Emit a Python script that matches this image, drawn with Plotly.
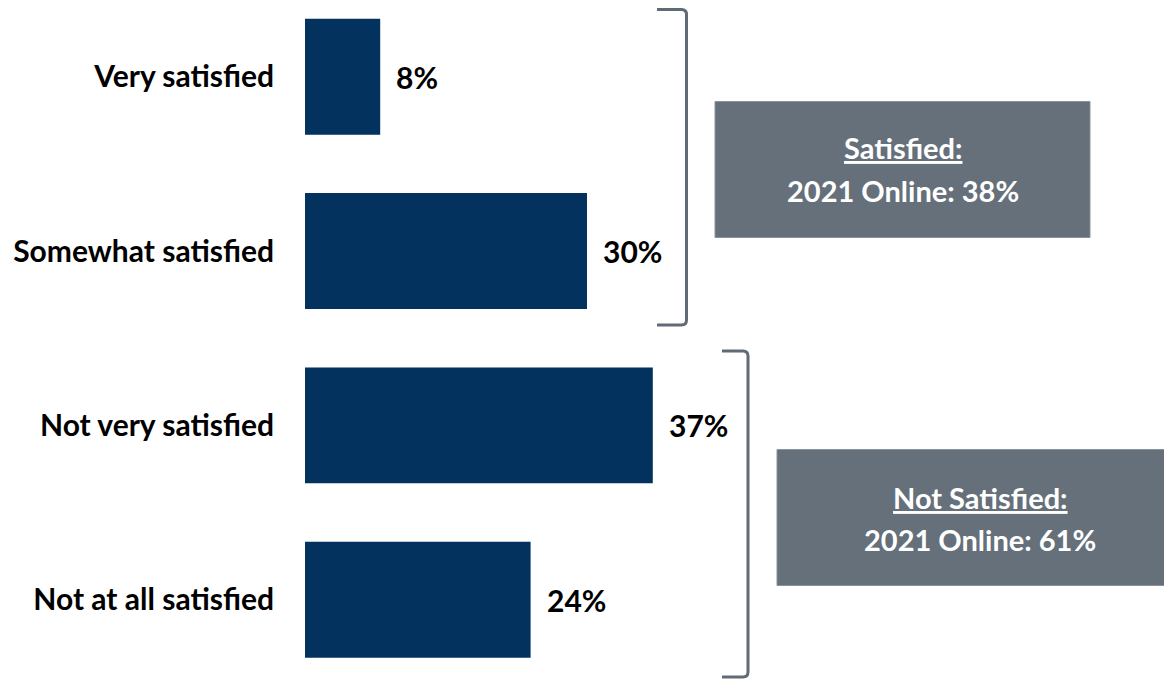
import plotly.graph_objects as go

categories = ["Very satisfied", "Somewhat satisfied", "Not very satisfied", "Not at all satisfied"]
values = [8, 30, 37, 24]
value_labels = ["8%", "30%", "37%", "24%"]
box_titles = ["Satisfied:", "Not Satisfied:"]
box_lines = ["2021 Online: 38%", "2021 Online: 61%"]

OFF = 8  # default page body margin
W, H = 1172 - OFF, 679 - OFF
L = 305 - OFF
PXPCT = 9.4
FONT = "Lato"
BAR = "#03325F"
GREY = "#5F6B76"
BOXC = "#65707B"

def X(px):
    return (px - OFF - L) / PXPCT

def Y(py):
    return 1 - (py - OFF) / H

fig = go.Figure()
fig.add_trace(go.Bar(
    y=categories, x=values, orientation="h",
    marker=dict(color=BAR, line=dict(width=0)),
    hoverinfo="skip",
))

for c, v, t in zip(categories, values, value_labels):
    fig.add_annotation(x=v, y=c, xref="x", yref="y", text=t, showarrow=False,
                       xanchor="left", xshift=14,
                       font=dict(family=FONT, size=30, color="#000000", weight="bold"))

def bracket(x0, x1, y0, y1, r=5):
    return (f"M {X(x0)},{Y(y0)} L {X(x1-r)},{Y(y0)} Q {X(x1)},{Y(y0)} {X(x1)},{Y(y0+r)} "
            f"L {X(x1)},{Y(y1-r)} Q {X(x1)},{Y(y1)} {X(x1-r)},{Y(y1)} L {X(x0)},{Y(y1)}")

fig.add_shape(type="path", xref="x", yref="paper", path=bracket(657, 686.5, 9.5, 325),
              line=dict(color=GREY, width=3))
fig.add_shape(type="path", xref="x", yref="paper", path=bracket(722, 748, 351, 677),
              line=dict(color=GREY, width=3))

boxes = [(715, 1090, 101.5, 237.5), (777, 1200, 449.5, 585.5)]
text_cx = [902.5, 980]
title_y = [147, 497]
line_y = [190, 539]
for (x0, x1, y0, y1), tt, ln, cx, ty, ly in zip(boxes, box_titles, box_lines, text_cx, title_y, line_y):
    fig.add_shape(type="rect", xref="x", yref="paper", x0=X(x0), x1=X(x1), y0=Y(y1), y1=Y(y0),
                  fillcolor=BOXC, line=dict(color="#8A939B", width=1), layer="above")
    fig.add_annotation(x=X(cx), y=Y(ty), xref="x", yref="paper", text=f"<u>{tt}</u>",
                       showarrow=False, xanchor="center", yanchor="middle",
                       font=dict(family=FONT, size=29, color="#FFFFFF", weight="bold"))
    fig.add_annotation(x=X(cx), y=Y(ly), xref="x", yref="paper", text=ln,
                       showarrow=False, xanchor="center", yanchor="middle",
                       font=dict(family=FONT, size=29, color="#FFFFFF", weight="bold"))

c0 = 76.7 - OFF
step = 174.33
y_top = -c0 / step
y_bot = (H - c0) / step
fig.update_layout(
    width=W, height=H,
    margin=dict(l=L, r=0, t=0, b=0),
    paper_bgcolor="white", plot_bgcolor="white",
    bargap=0.335,
    showlegend=False,
    xaxis=dict(range=[0, (W - L) / PXPCT], showgrid=False, zeroline=False,
               showticklabels=False, showline=False, fixedrange=True),
    yaxis=dict(range=[y_bot, y_top], showgrid=False, zeroline=False, showline=False,
               ticks="", ticklabelstandoff=30,
               tickfont=dict(family=FONT, size=30, color="#000000", weight="bold"),
               fixedrange=True),
)

fig.write_html("out.html")
